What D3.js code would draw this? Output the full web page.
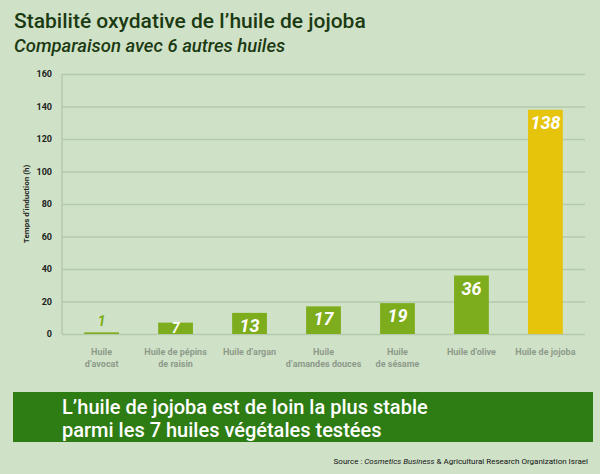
<!DOCTYPE html>
<html><head><meta charset="utf-8">
<script src="https://cdn.jsdelivr.net/npm/d3@7"></script>
<style>
body{margin:0;background:#cfe2c8;font-family:Roboto,sans-serif}
</style></head><body>
<svg id="chart" width="600" height="474"></svg>
<script>
const oils = [['Huile', 'd\u2019avocat'], ['Huile de pépins', 'de raisin'], ['Huile d\u2019argan'], ['Huile', 'd\u2019amandes douces'], ['Huile', 'de sésame'], ['Huile d\u2019olive'], ['Huile de jojoba']]
const hours = [1, 7, 13, 17, 19, 36, 138]
const yTicks = [0, 20, 40, 60, 80, 100, 120, 140, 160]

const svg = d3.select('#chart')
svg.append('rect').attr('width', 600).attr('height', 474).attr('fill', '#cfe2c8')

const m = {left: 62, right: 585, top: 74, bottom: 334}
const x = d3.scaleBand().domain(d3.range(oils.length)).range([m.left, m.right]).paddingInner(0.53).paddingOuter(0.3)
const y = d3.scaleLinear().domain([0, 160]).range([m.bottom, m.top])

svg.append('text').attr('x', 14).attr('y', 28).attr('font-size', 21).attr('font-weight', 500).attr('fill', '#1c3a12')
	.text('Stabilité oxydative de l\u2019huile de jojoba')
svg.append('text').attr('x', 14).attr('y', 52).attr('font-size', 18.5).attr('font-style', 'italic').attr('font-weight', 500).attr('fill', '#1c3a12')
	.text('Comparaison avec 6 autres huiles')

const yAxis = svg.append('g').attr('transform', `translate(${m.left},0)`)
	.call(d3.axisLeft(y).tickValues(yTicks).tickSize(-(m.right - m.left)).tickPadding(10))
yAxis.select('.domain').remove()
yAxis.selectAll('line').attr('stroke', '#b5c9ad').attr('stroke-width', 1.5)
yAxis.selectAll('text').attr('font-size', 9).attr('font-weight', 700).attr('fill', '#222').attr('font-family', 'Roboto')
svg.append('line').attr('x1', m.left).attr('x2', m.left).attr('y1', m.top).attr('y2', m.bottom).attr('stroke', '#b5c9ad').attr('stroke-width', 1.5)

svg.append('text').attr('transform', `translate(29,${(m.top + m.bottom) / 2}) rotate(-90)`).attr('text-anchor', 'middle')
	.attr('font-size', 8).attr('font-weight', 700).attr('fill', '#222').text('Temps d\u2019induction (h)')

svg.selectAll('rect.bar').data(hours).join('rect').attr('class', 'bar')
	.attr('x', (d, i) => x(i)).attr('width', x.bandwidth())
	.attr('y', d => y(d)).attr('height', d => y(0) - y(d))
	.attr('fill', (d, i) => i === 6 ? '#e6c40c' : '#7dac1c')

svg.selectAll('text.val').data(hours).join('text').attr('class', 'val')
	.attr('x', (d, i) => x(i) + x.bandwidth() / 2)
	.attr('y', d => d < 5 ? y(d) - 6 : Math.min(y(d) + 19, y(0) - 1))
	.attr('text-anchor', 'middle').attr('font-size', d => d < 5 ? 14 : d < 10 ? 14 : 18).attr('font-style', 'italic').attr('font-weight', 700)
	.attr('fill', d => d < 5 ? '#7dac1c' : '#fff').text(d => d)

svg.selectAll('text.cat').data(oils).join('text').attr('class', 'cat')
	.attr('x', (d, i) => x(i) + x.bandwidth() / 2).attr('y', 355)
	.attr('text-anchor', 'middle').attr('font-size', 9).attr('font-weight', 700).attr('fill', '#8e9a8a')
	.selectAll('tspan').data(d => d).join('tspan')
	.attr('x', function () { return this.parentNode.getAttribute('x') }).attr('dy', (d, i) => i ? 12 : 0).text(d => d)

svg.append('rect').attr('x', 13).attr('y', 392).attr('width', 580).attr('height', 50).attr('fill', '#2e7d14')
svg.append('text').attr('x', 62).attr('y', 414).attr('font-size', 20).attr('font-weight', 500).attr('fill', '#fff')
	.text('L\u2019huile de jojoba est de loin la plus stable')
svg.append('text').attr('x', 62).attr('y', 437).attr('font-size', 20).attr('font-weight', 500).attr('fill', '#fff')
	.text('parmi les 7 huiles végétales testées')

const src = svg.append('text').attr('x', 588).attr('y', 464).attr('text-anchor', 'end').attr('font-size', 8).attr('fill', '#111')
src.append('tspan').text('Source : ')
src.append('tspan').attr('font-style', 'italic').text('Cosmetics Business')
src.append('tspan').text(' & Agricultural Research Organization Israel')
</script></body></html>
